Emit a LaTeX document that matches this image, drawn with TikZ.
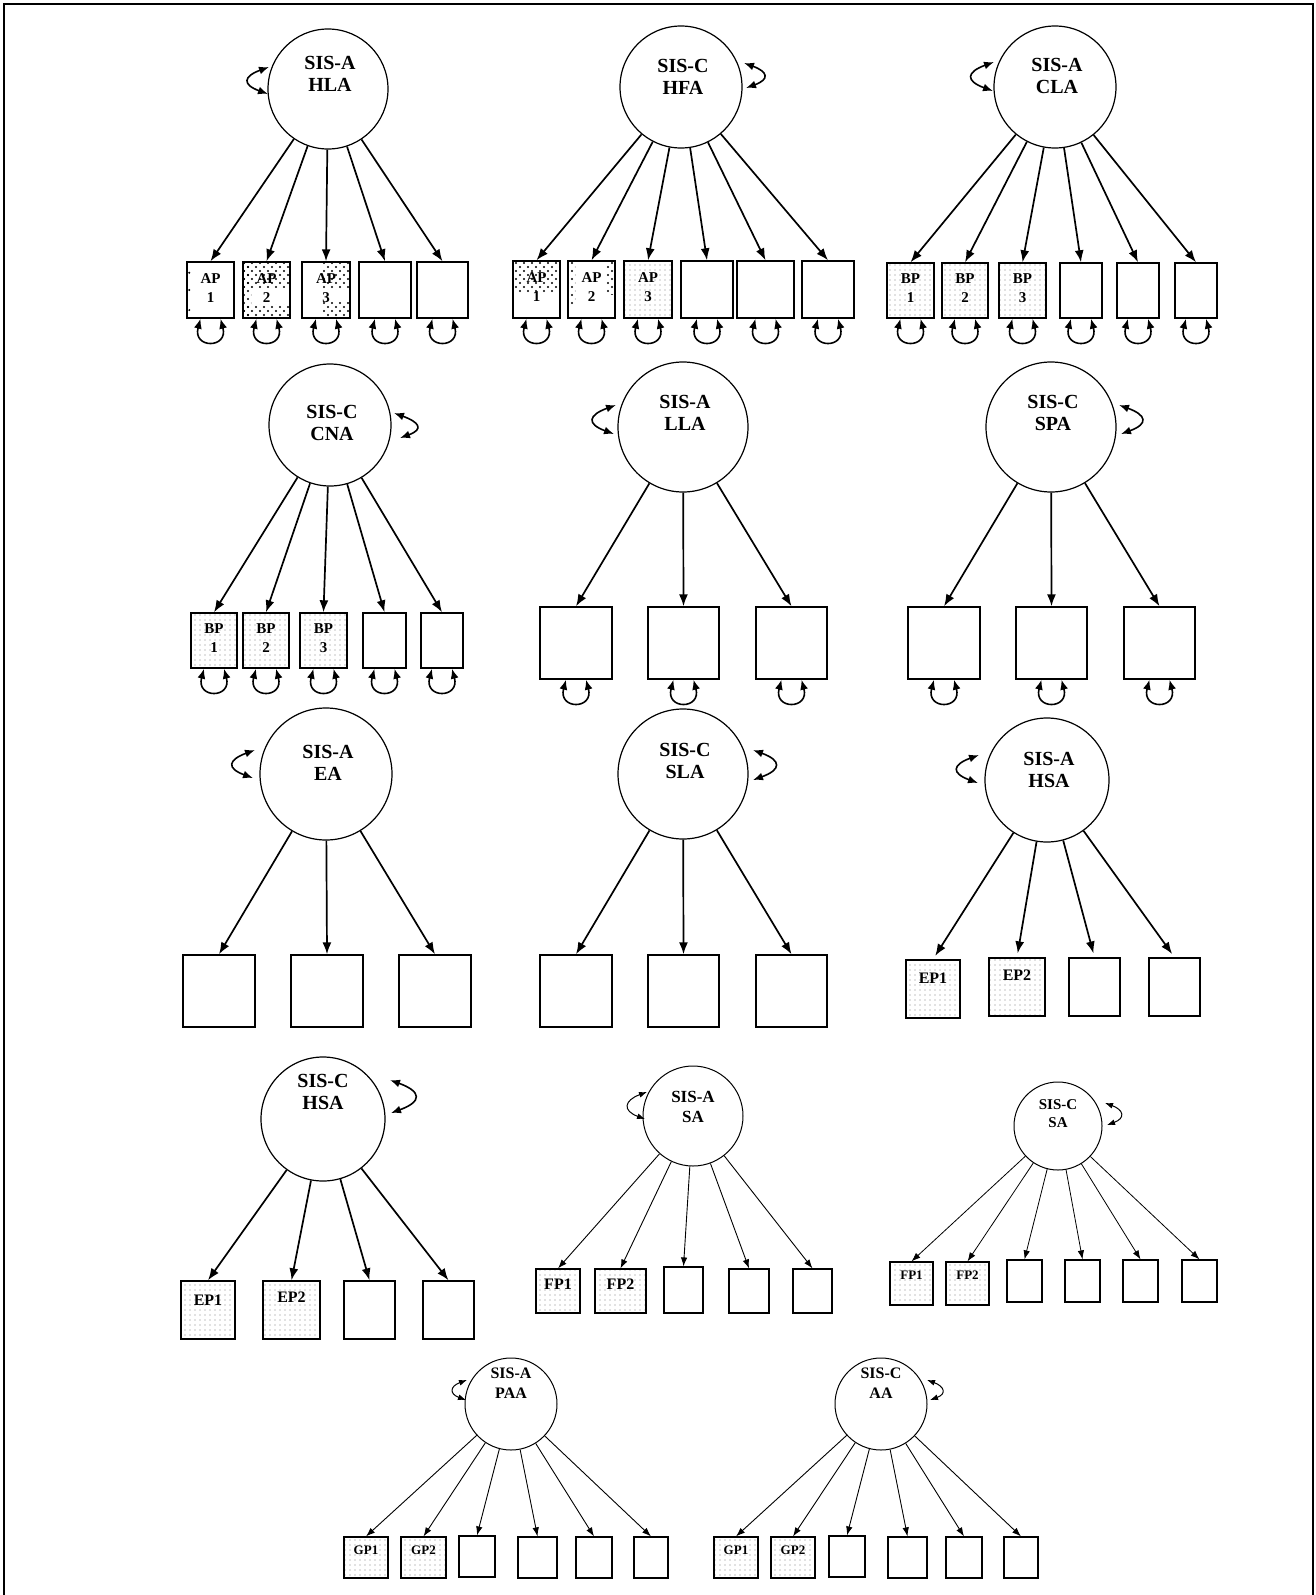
\documentclass[tikz,border=0pt]{standalone}
\usepackage{fontspec}
\setmainfont{Liberation Serif}
\usetikzlibrary{arrows.meta,patterns,calc}
\pgfdeclarelayer{bg}
\pgfsetlayers{bg,main}
\pgfdeclarepatternformonly{darkdots}{\pgfqpoint{-1.5pt}{-1.5pt}}{\pgfqpoint{5.5pt}{5.5pt}}{\pgfqpoint{8pt}{8pt}}{\pgfpathcircle{\pgfqpoint{0pt}{0pt}}{1.1pt}\pgfpathcircle{\pgfqpoint{4pt}{4pt}}{1.1pt}\pgfusepath{fill}}
\pgfdeclarepatternformonly{lightdots}{\pgfqpoint{-1pt}{-1pt}}{\pgfqpoint{1pt}{1pt}}{\pgfqpoint{5pt}{5pt}}{\pgfpathcircle{\pgfqpoint{0pt}{0pt}}{0.65pt}\pgfusepath{fill}}
\newcommand\mkbox[6]{\node[#2,minimum width={(#4-#3)*1pt},minimum height={(#6-#5)*1pt}] (#1) at ({(#3+#4)/2},{-(#5+#6)/2}) {};}
\newcommand\errloop[1]{\draw[varr] ([xshift=-10pt]#1.south) to[out=-105,in=-75,looseness=4] ([xshift=10pt]#1.south);}
\newcommand\varL[6]{\draw[#6] ($(#1)+(#2,#3)$) to[out=200,in=160] ($(#1)+(#4,#5)$);}
\newcommand\varR[6]{\draw[#6] ($(#1)+(#2,#3)$) to[out=-20,in=20] ($(#1)+(#4,#5)$);}
\begin{document}
\begin{tikzpicture}[x=1pt,y=1pt,
  lat/.style={circle,draw,line width=1.2pt,inner sep=0pt},
  latt/.style={circle,draw,line width=1pt,inner sep=0pt},
  box/.style={rectangle,draw,line width=1.4pt,inner sep=0pt},
  boxt/.style={rectangle,draw,line width=1.2pt,inner sep=0pt},
  light/.style={pattern=lightdots,pattern color=black!50},
  dark/.style={pattern=darkdots,pattern color=black},
  load/.style={-{Latex[length=12pt,width=9pt]},line width=1.7pt},
  loadt/.style={-{Latex[length=9pt,width=6.5pt]},line width=0.9pt},
  varr/.style={{Latex[length=10pt,width=8pt]}-{Latex[length=10pt,width=8pt]},line width=1.6pt,looseness=2.6},
  varrt/.style={{Latex[length=8pt,width=6pt]}-{Latex[length=8pt,width=6pt]},line width=1pt,looseness=2.3},
  ttl/.style={font=\bfseries\fontsize{20}{22}\selectfont,align=center,inner sep=0pt},
  ttlm/.style={font=\bfseries\fontsize{17}{20}\selectfont,align=center,inner sep=0pt},
  ttlp/.style={font=\bfseries\fontsize{16}{20}\selectfont,align=center,inner sep=0pt},
  ttls/.style={font=\bfseries\fontsize{15}{18}\selectfont,align=center,inner sep=0pt},
  lblA/.style={font=\bfseries\fontsize{15}{19}\selectfont,align=center,inner sep=0pt},
  lblE/.style={font=\bfseries\fontsize{16}{18}\selectfont,inner sep=0pt},
  lblS/.style={font=\bfseries\fontsize{13}{15}\selectfont,inner sep=0pt}
]
\useasboundingbox (0,-1595) rectangle (1316,0);
\draw[line width=1.3pt] (4,-1600) -- (4,-4) -- (1313,-4) -- (1313,-1600);

% ---------- SIS-A HLA ----------
\node[lat,minimum size=120pt] (hla) at (328,-89) {};
\node[ttl] (hlat) at (330,-74) {SIS-A\\HLA};
\mkbox{hla1}{box}{187}{234}{262}{318}
\mkbox{hla2}{box}{243}{290}{262}{318}
\mkbox{hla3}{box}{302}{350}{262}{318}
\mkbox{hla4}{box}{359}{411}{262}{318}
\mkbox{hla5}{box}{417}{468}{262}{318}
\begin{pgfonlayer}{bg}
\foreach \yy in {0.2,0.5,0.85} \fill ($(hla1.north west)!\yy!(hla1.south west)+(3,0)$) circle (1.1pt);
\fill[dark] (hla2.north west) rectangle ($(hla2.north east)+(0,-26)$);
\fill[dark] ($(hla2.south west)+(0,14)$) rectangle (hla2.south east);
\fill[dark] (hla2.north west) rectangle ($(hla2.south west)+(9,0)$);
\fill[dark] ($(hla3.north)+(-3,0)$) rectangle ($(hla3.north east)+(0,-28)$);
\fill[dark] ($(hla3.south)+(-3,16)$) rectangle (hla3.south east);
\end{pgfonlayer}
\foreach \i in {1,2,3} \node[lblA] (hla\i l) at ([yshift=2pt]hla\i.center) {AP\\\i};
\foreach \i in {1,...,5}{\draw[load] (hla) -- (hla\i.north); \errloop{hla\i}}
\varL{hla}{-59}{22}{-60}{-5}{varr}

% ---------- SIS-C HFA ----------
\node[lat,minimum size=122pt] (hfa) at (681,-87) {};
\node[ttl] (hfat) at (683,-76.5) {SIS-C\\HFA};
\mkbox{hfa1}{box}{513}{560}{261}{318}
\mkbox{hfa2}{box}{568}{615}{261}{318}
\mkbox{hfa3}{box,light}{624}{672}{261}{318}
\mkbox{hfa4}{box}{681}{733}{261}{318}
\mkbox{hfa5}{box}{737}{794}{261}{318}
\mkbox{hfa6}{box}{802}{854}{261}{318}
\begin{pgfonlayer}{bg}
\fill[dark] (hfa1.north west) rectangle ($(hfa1.north east)+(0,-32)$);
\fill[dark] (hfa2.north west) rectangle ($(hfa2.north west)+(8,-44)$);
\fill[dark] ($(hfa2.north east)+(-10,0)$) rectangle ($(hfa2.north east)+(0,-34)$);
\end{pgfonlayer}
\foreach \i in {1,2,3} \node[lblA] (hfa\i l) at ([yshift=2pt]hfa\i.center) {AP\\\i};
\foreach \i in {1,...,6}{\draw[load] (hfa) -- (hfa\i.north); \errloop{hfa\i}}
\varR{hfa}{63}{24}{65}{-1}{varr}

% ---------- SIS-A CLA ----------
\node[lat,minimum size=122pt] (cla) at (1055,-87) {};
\node[ttl] (clat) at (1057,-76) {SIS-A\\CLA};
\mkbox{cla1}{box,light}{887}{934}{263}{318}
\mkbox{cla2}{box,light}{942}{988}{263}{318}
\mkbox{cla3}{box,light}{999}{1046}{263}{318}
\mkbox{cla4}{box}{1060}{1102}{263}{318}
\mkbox{cla5}{box}{1117}{1159}{263}{318}
\mkbox{cla6}{box}{1175}{1217}{263}{318}
\foreach \i in {1,2,3} \node[lblA] (cla\i l) at ([yshift=2pt]cla\i.center) {BP\\\i};
\foreach \i in {1,...,6}{\draw[load] (cla) -- (cla\i.north); \errloop{cla\i}}
\varL{cla}{-61}{25}{-62}{-4}{varr}

% ---------- SIS-C CNA ----------
\node[lat,minimum size=122pt] (cna) at (330,-425) {};
\node[ttl] (cnat) at (332,-423) {SIS-C\\CNA};
\mkbox{cna1}{box,light}{191}{237}{613}{668}
\mkbox{cna2}{box,light}{243}{289}{613}{668}
\mkbox{cna3}{box,light}{300}{347}{613}{668}
\mkbox{cna4}{box}{363}{406}{613}{668}
\mkbox{cna5}{box}{421}{463}{613}{668}
\foreach \i in {1,2,3} \node[lblA] (cna\i l) at ([yshift=2pt]cna\i.center) {BP\\\i};
\foreach \i in {1,...,5}{\draw[load] (cna) -- (cna\i.north); \errloop{cna\i}}
\varR{cna}{64}{12}{70}{-13}{varr}

% ---------- SIS-A LLA ----------
\node[lat,minimum size=130pt] (lla) at (683,-427) {};
\node[ttl] (llat) at (685,-413) {SIS-A\\LLA};
\mkbox{lla1}{box}{540}{612}{607}{679}
\mkbox{lla2}{box}{648}{719}{607}{679}
\mkbox{lla3}{box}{756}{827}{607}{679}
\foreach \i in {1,2,3}{\draw[load] (lla) -- (lla\i.north); \errloop{lla\i}}
\varL{lla}{-67}{22}{-69}{-7}{varr}

% ---------- SIS-C SPA ----------
\node[lat,minimum size=130pt] (spa) at (1051,-427) {};
\node[ttl] (spat) at (1053,-413) {SIS-C\\SPA};
\mkbox{spa1}{box}{908}{980}{607}{679}
\mkbox{spa2}{box}{1016}{1087}{607}{679}
\mkbox{spa3}{box}{1124}{1195}{607}{679}
\foreach \i in {1,2,3}{\draw[load] (spa) -- (spa\i.north); \errloop{spa\i}}
\varR{spa}{68}{22}{70}{-7}{varr}

% ---------- SIS-A EA ----------
\node[lat,minimum size=132pt] (ea) at (326,-774) {};
\node[ttl] (eat) at (328,-763) {SIS-A\\EA};
\mkbox{ea1}{box}{183}{255}{955}{1027}
\mkbox{ea2}{box}{291}{363}{955}{1027}
\mkbox{ea3}{box}{399}{471}{955}{1027}
\foreach \i in {1,2,3} \draw[load] (ea) -- (ea\i.north);
\varL{ea}{-71}{24}{-73}{-4}{varr}

% ---------- SIS-C SLA ----------
\node[lat,minimum size=130pt] (sla) at (683,-774) {};
\node[ttl] (slat) at (685,-761) {SIS-C\\SLA};
\mkbox{sla1}{box}{540}{612}{955}{1027}
\mkbox{sla2}{box}{648}{719}{955}{1027}
\mkbox{sla3}{box}{756}{827}{955}{1027}
\foreach \i in {1,2,3} \draw[load] (sla) -- (sla\i.north);
\varR{sla}{70}{24}{70}{-6}{varr}

% ---------- SIS-A HSA ----------
\node[lat,minimum size=124pt] (hsaa) at (1047,-780) {};
\node[ttl] (hsaat) at (1049,-770) {SIS-A\\HSA};
\mkbox{hsaa1}{box,light}{906}{960}{960}{1018}
\mkbox{hsaa2}{box,light}{989}{1045}{958}{1016}
\mkbox{hsaa3}{box}{1069}{1120}{958}{1016}
\mkbox{hsaa4}{box}{1149}{1200}{958}{1016}
\node[lblE] (hsaa1l) at ([yshift=11pt]hsaa1.center) {EP1};
\node[lblE] (hsaa2l) at ([yshift=12pt]hsaa2.center) {EP2};
\foreach \i in {1,...,4} \draw[load,shorten >=4pt] (hsaa) -- (hsaa\i.north);
\varL{hsaa}{-68}{25}{-69}{-3}{varr}

% ---------- SIS-C HSA ----------
\node[lat,minimum size=124pt] (hsac) at (323,-1119) {};
\node[ttl] (hsact) at (323,-1092) {SIS-C\\HSA};
\mkbox{hsac1}{box,light}{181}{235}{1281}{1339}
\mkbox{hsac2}{box,light}{263}{320}{1281}{1339}
\mkbox{hsac3}{box}{344}{395}{1281}{1339}
\mkbox{hsac4}{box}{423}{474}{1281}{1339}
\node[lblE] (hsac1l) at ([yshift=10pt]hsac1.center) {EP1};
\node[lblE] (hsac2l) at ([yshift=13pt]hsac2.center) {EP2};
\foreach \i in {1,...,4} \draw[load] (hsac) -- (hsac\i.north);
\varR{hsac}{67}{39}{68}{6}{varr}

% ---------- SIS-A SA ----------
\node[latt,minimum size=100pt] (saa) at (693,-1116) {};
\node[ttlm] (saat) at (693,-1107) {SIS-A\\SA};
\mkbox{saa1}{boxt,light}{536}{580}{1269}{1313}
\mkbox{saa2}{boxt,light}{595}{646}{1269}{1313}
\mkbox{saa3}{boxt}{664}{703}{1267}{1313}
\mkbox{saa4}{boxt}{729}{769}{1269}{1313}
\mkbox{saa5}{boxt}{793}{832}{1269}{1313}
\node[lblE] (saa1l) at ([yshift=7pt]saa1.center) {FP1};
\node[lblE] (saa2l) at ([yshift=7pt]saa2.center) {FP2};
\foreach \i in {1,...,5} \draw[loadt] (saa) -- (saa\i.north);
\varL{saa}{-46}{24}{-48}{-3}{varrt}

% ---------- SIS-C SA ----------
\node[latt,minimum size=88pt] (sac) at (1058,-1126) {};
\node[ttls] (sact) at (1058,-1114) {SIS-C\\SA};
\mkbox{sac1}{boxt,light}{890}{933}{1262}{1305}
\mkbox{sac2}{boxt,light}{946}{989}{1262}{1305}
\mkbox{sac3}{boxt}{1007}{1042}{1260}{1302}
\mkbox{sac4}{boxt}{1065}{1100}{1260}{1302}
\mkbox{sac5}{boxt}{1123}{1158}{1260}{1302}
\mkbox{sac6}{boxt}{1182}{1217}{1260}{1302}
\node[lblS] (sac1l) at ([yshift=8pt]sac1.center) {FP1};
\node[lblS] (sac2l) at ([yshift=8pt]sac2.center) {FP2};
\foreach \i in {1,...,6} \draw[loadt,line width=0.8pt] (sac) -- (sac\i.north);
\varR{sac}{47}{23}{49}{1}{varrt}

% ---------- SIS-A PAA ----------
\node[latt,minimum size=92pt] (paa) at (511,-1404) {};
\node[ttlp] (paat) at (511,-1383) {SIS-A\\PAA};
\mkbox{paa1}{boxt,light}{344}{388}{1537}{1578}
\mkbox{paa2}{boxt,light}{401}{446}{1537}{1578}
\mkbox{paa3}{boxt}{459}{495}{1536}{1577}
\mkbox{paa4}{boxt}{518}{557}{1537}{1578}
\mkbox{paa5}{boxt}{576}{612}{1537}{1578}
\mkbox{paa6}{boxt}{634}{668}{1537}{1578}
\node[lblS] (paa1l) at ([yshift=7.5pt]paa1.center) {GP1};
\node[lblS] (paa2l) at ([yshift=7.5pt]paa2.center) {GP2};
\foreach \i in {1,...,6} \draw[loadt] (paa) -- (paa\i.north);
\varL{paa}{-44}{24}{-45}{4}{varrt}

% ---------- SIS-C AA ----------
\node[latt,minimum size=92pt] (aa) at (881,-1404) {};
\node[ttlp] (aat) at (881,-1383) {SIS-C\\AA};
\mkbox{aa1}{boxt,light}{714}{758}{1537}{1578}
\mkbox{aa2}{boxt,light}{771}{815}{1537}{1578}
\mkbox{aa3}{boxt}{829}{865}{1536}{1577}
\mkbox{aa4}{boxt}{888}{927}{1537}{1578}
\mkbox{aa5}{boxt}{946}{982}{1537}{1578}
\mkbox{aa6}{boxt}{1004}{1038}{1537}{1578}
\node[lblS] (aa1l) at ([yshift=7.5pt]aa1.center) {GP1};
\node[lblS] (aa2l) at ([yshift=7.5pt]aa2.center) {GP2};
\foreach \i in {1,...,6} \draw[loadt] (aa) -- (aa\i.north);
\varR{aa}{46}{24}{49}{4}{varrt}
\end{tikzpicture}
\end{document}
